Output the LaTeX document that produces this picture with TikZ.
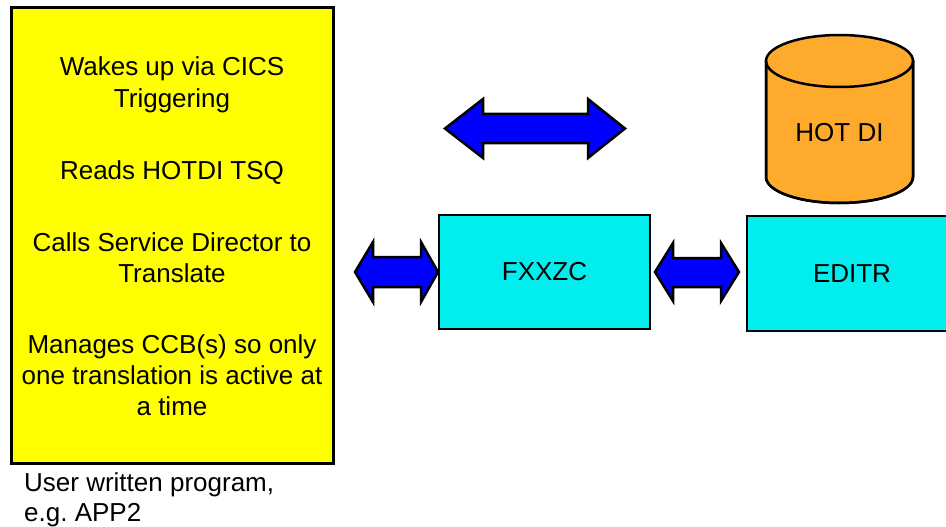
\documentclass[tikz,border=0pt]{standalone}
\usepackage{fontspec}
\setmainfont{Liberation Sans}
\frenchspacing
\begin{document}
\begin{tikzpicture}[x=1pt,y=-1pt,
  every node/.style={font=\fontsize{26}{31}\selectfont, inner sep=0pt},
  txt/.style={anchor=base},
  prog/.style={draw=black, line width=3pt, fill=progyellow},
  module/.style={draw=black, line width=2.5pt, fill=modcyan},
  flow/.style={draw=black, line width=2.5pt, fill=flowblue, line join=miter},
  store/.style={draw=black, line width=2.5pt, fill=storeorange}]
\definecolor{progyellow}{RGB}{255,255,0}
\definecolor{modcyan}{RGB}{0,238,238}
\definecolor{flowblue}{RGB}{0,0,255}
\definecolor{storeorange}{RGB}{253,170,45}

\clip (0,0) rectangle (946,527);
\path[use as bounding box] (0,0) rectangle (946,527);

% user program box
\node[prog, minimum width=322pt, minimum height=455pt] (app) at (172,235.5) {};
\node[txt] (l1) at (172,76)  {Wakes up via CICS};
\node[txt] (l2) at (172,107) {Triggering};
\node[txt] (l3) at (172,179) {Reads HOTDI TSQ};
\node[txt] (l4) at (172,251) {Calls Service Director to};
\node[txt] (l5) at (172,282) {Translate};
\node[txt] (l6) at (172,353) {Manages CCB(s) so only};
\node[txt] (l7) at (172,384) {one translation is active at};
\node[txt] (l8) at (172,415) {a time};
\node[anchor=base west] (cap1) at (24,491) {User written program,};
\node[anchor=base west] (cap2) at (24,521) {e.g. APP2};

% modules
\node[module, minimum width=211pt, minimum height=114pt] (fxxzc) at (544.5,272) {FXXZC};
\node[module, minimum width=210pt, minimum height=115pt] (editr) at (852,273.5) {EDITR};

% HOT DI data store
\path[store] (766,61) -- (766,177)
  arc[start angle=180, end angle=360, x radius=73.5pt, y radius=26pt]
  -- (913,61) -- cycle;
\draw[store] (839.5,61) ellipse [x radius=73.5pt, y radius=26pt];
\draw[black, line width=2.5pt] (766,61) -- (766,177)
  arc[start angle=180, end angle=360, x radius=73.5pt, y radius=26pt] -- (913,61);
\node (hotdi) at (839.5,133) {HOT DI};

% two-way flow arrows
\draw[flow] (445,128.5) -- (483,99) -- (483,114) -- (588,114) -- (588,99)
  -- (625,128.5) -- (588,158) -- (588,143) -- (483,143) -- (483,158) -- cycle;
\draw[flow] (355,272) -- (373,242) -- (373,257) -- (421,257) -- (421,242)
  -- (438,272) -- (421,302) -- (421,287) -- (373,287) -- (373,302) -- cycle;
\draw[flow] (655,272) -- (673,243) -- (673,258) -- (721,258) -- (721,243)
  -- (739,272) -- (721,301) -- (721,287) -- (673,287) -- (673,301) -- cycle;
\end{tikzpicture}
\end{document}
